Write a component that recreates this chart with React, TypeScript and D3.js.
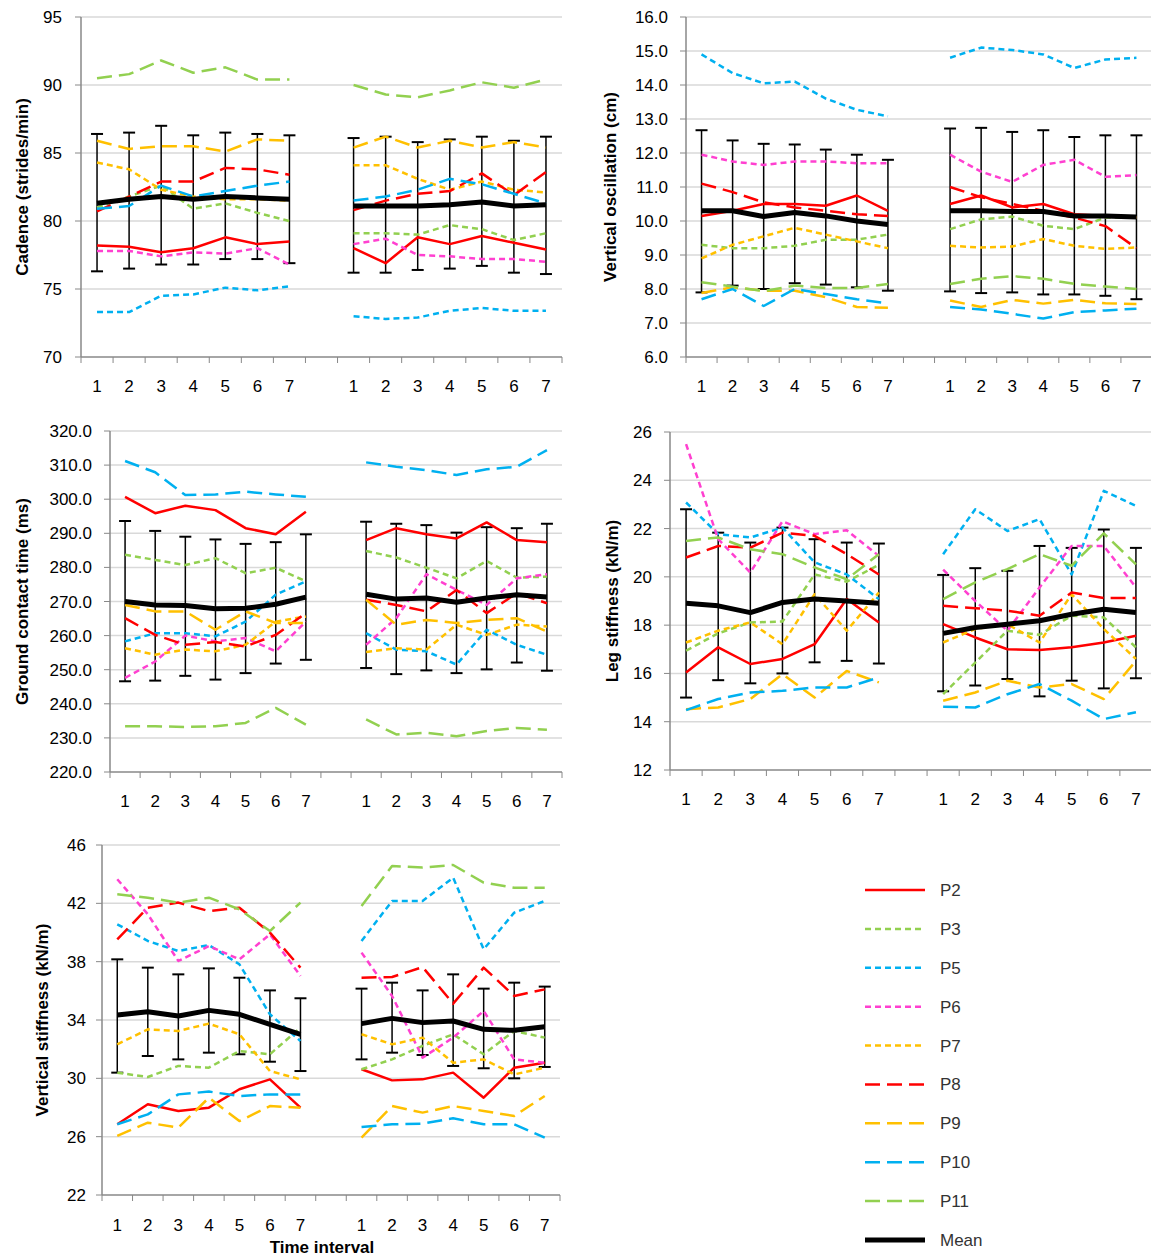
import * as d3 from "d3";
import { useRef, useEffect } from "react";

const intervals = ["1", "2", "3", "4", "5", "6", "7"];
const seriesNames = ["P2", "P3", "P5", "P6", "P7", "P8", "P9", "P10", "P11", "Mean"];

// each row: 7 values for block 1 followed by 7 for block 2
const cadence: Record<string, number[]> = {
  P2: [78.2, 78.1, 77.7, 78.0, 78.8, 78.3, 78.5, 78.0, 76.9, 78.8, 78.3, 78.9, 78.4, 77.9],
  P3: [81.0, 81.8, 82.6, 80.9, 81.3, 80.6, 80.0, 79.1, 79.1, 79.0, 79.7, 79.4, 78.6, 79.1],
  P5: [73.3, 73.3, 74.5, 74.6, 75.1, 74.9, 75.2, 73.0, 72.8, 72.9, 73.4, 73.6, 73.4, 73.4],
  P6: [77.8, 77.8, 77.4, 77.7, 77.6, 78.0, 76.8, 78.3, 78.7, 77.5, 77.4, 77.2, 77.2, 77.0],
  P7: [84.3, 83.8, 82.3, 81.8, 81.6, 81.6, 81.5, 84.1, 84.1, 83.1, 82.3, 82.9, 82.3, 82.1],
  P8: [80.7, 81.8, 82.9, 82.9, 83.9, 83.8, 83.4, 80.8, 81.5, 82.0, 82.2, 83.5, 81.9, 83.6],
  P9: [85.9, 85.3, 85.5, 85.5, 85.1, 86.0, 85.9, 85.4, 86.2, 85.4, 85.9, 85.4, 85.8, 85.4],
  P10: [80.9, 81.1, 82.6, 81.8, 82.2, 82.6, 82.9, 81.5, 81.8, 82.3, 83.1, 82.7, 82.0, 81.3],
  P11: [90.5, 90.8, 91.8, 90.9, 91.3, 90.4, 90.4, 90.0, 89.3, 89.1, 89.6, 90.2, 89.8, 90.4],
  Mean: [81.3, 81.6, 81.8, 81.6, 81.8, 81.7, 81.6, 81.1, 81.1, 81.1, 81.2, 81.4, 81.1, 81.2],
};
const cadenceHi = [86.4, 86.5, 87.0, 86.3, 86.5, 86.4, 86.3, 86.1, 86.2, 85.8, 86.0, 86.2, 85.9, 86.2];
const cadenceLo = [76.3, 76.5, 76.8, 76.8, 77.2, 77.2, 76.9, 76.2, 76.2, 76.4, 76.5, 76.7, 76.2, 76.1];

const oscillation: Record<string, number[]> = {
  P2: [10.15, 10.3, 10.5, 10.5, 10.45, 10.75, 10.3, 10.5, 10.75, 10.4, 10.5, 10.2, 10.15, 10.1],
  P3: [9.3, 9.2, 9.2, 9.27, 9.45, 9.45, 9.6, 9.76, 10.05, 10.13, 9.86, 9.76, 10.1, 10.1],
  P5: [14.9, 14.35, 14.05, 14.1, 13.6, 13.27, 13.08, 14.8, 15.1, 15.03, 14.9, 14.5, 14.75, 14.8],
  P6: [11.95, 11.75, 11.65, 11.75, 11.75, 11.7, 11.7, 11.95, 11.45, 11.15, 11.65, 11.8, 11.3, 11.35],
  P7: [8.9, 9.3, 9.55, 9.8, 9.6, 9.4, 9.2, 9.27, 9.22, 9.25, 9.47, 9.27, 9.18, 9.22],
  P8: [11.1, 10.85, 10.55, 10.4, 10.3, 10.2, 10.15, 11.0, 10.7, 10.5, 10.3, 10.1, 9.85, 9.2],
  P9: [7.88, 8.05, 7.95, 7.95, 7.76, 7.47, 7.45, 7.66, 7.47, 7.68, 7.57, 7.68, 7.58, 7.56],
  P10: [7.7, 8.0, 7.5, 8.0, 7.85, 7.7, 7.58, 7.47, 7.4, 7.27, 7.13, 7.32, 7.37, 7.42],
  P11: [8.2, 8.07, 7.94, 8.1, 8.03, 8.03, 8.15, 8.15, 8.3, 8.38, 8.3, 8.15, 8.07, 8.0],
  Mean: [10.3, 10.3, 10.13, 10.25, 10.15, 10.0, 9.9, 10.3, 10.3, 10.28, 10.28, 10.15, 10.15, 10.12],
};
const oscillationHi = [12.67, 12.37, 12.27, 12.25, 12.1, 11.95, 11.8, 12.72, 12.74, 12.62, 12.67, 12.47, 12.52, 12.52];
const oscillationLo = [7.9, 8.1, 8.0, 8.17, 8.13, 8.05, 7.95, 7.93, 7.88, 7.9, 7.84, 7.84, 7.8, 7.7];

const contact: Record<string, number[]> = {
  P2: [300.7, 295.9, 298.1, 296.8, 291.5, 289.7, 296.3, 288.0, 291.5, 289.7, 288.5, 293.2, 288.0, 287.4],
  P3: [283.7, 282.2, 280.7, 282.7, 278.3, 279.9, 275.9, 284.8, 282.9, 279.9, 276.8, 281.9, 277.0, 277.3],
  P5: [258.3, 260.7, 260.7, 259.8, 264.1, 272.0, 275.9, 260.7, 255.9, 255.4, 251.5, 261.7, 257.3, 254.4],
  P6: [247.6, 252.4, 260.0, 258.3, 259.3, 255.4, 264.1, 257.3, 265.1, 278.0, 273.4, 269.0, 276.8, 278.0],
  P7: [256.3, 254.4, 255.9, 255.4, 257.3, 264.1, 265.6, 255.2, 256.3, 255.9, 263.2, 260.2, 263.2, 262.7],
  P8: [265.1, 260.2, 257.3, 258.1, 256.8, 260.2, 266.6, 270.5, 269.0, 267.1, 273.4, 266.6, 272.4, 269.5],
  P9: [269.0, 267.1, 267.1, 261.7, 267.1, 263.7, 263.7, 270.5, 263.2, 264.6, 263.7, 264.6, 265.1, 261.2],
  P10: [311.2, 307.9, 301.2, 301.4, 302.2, 301.4, 300.7, 310.8, 309.5, 308.5, 307.1, 308.8, 309.5, 314.4],
  P11: [233.4, 233.4, 233.2, 233.4, 234.4, 238.8, 233.9, 235.4, 231.0, 231.5, 230.5, 232.0, 232.9, 232.4],
  Mean: [270.0, 269.0, 268.8, 267.9, 268.0, 269.2, 271.3, 272.1, 270.7, 271.0, 269.8, 271.0, 272.0, 271.3],
};
const contactHi = [293.6, 290.7, 289.0, 288.2, 286.9, 287.4, 289.7, 293.4, 292.8, 292.4, 290.2, 291.8, 291.5, 292.8];
const contactLo = [246.6, 246.8, 248.2, 247.1, 249.0, 251.8, 252.9, 250.5, 248.7, 249.8, 249.0, 250.1, 252.1, 249.7];

const legStiff: Record<string, number[]> = {
  P2: [16.04, 17.08, 16.39, 16.6, 17.21, 19.08, 18.11, 18.04, 17.49, 17.0, 16.97, 17.08, 17.28, 17.56],
  P3: [16.94, 17.66, 18.11, 18.15, 20.1, 19.8, 20.5, 15.14, 16.45, 17.77, 17.6, 18.39, 18.32, 17.08],
  P5: [23.08, 21.77, 21.63, 22.04, 20.6, 20.1, 19.08, 20.94, 22.8, 21.9, 22.39, 20.1, 23.56, 22.94],
  P6: [25.5, 21.56, 20.18, 22.3, 21.77, 21.93, 20.87, 20.3, 19.0, 17.77, 19.56, 21.28, 21.28, 19.56],
  P7: [17.28, 17.77, 18.11, 17.21, 19.28, 17.77, 19.35, 17.28, 17.84, 18.04, 17.28, 19.28, 17.84, 16.6],
  P8: [20.8, 21.28, 21.21, 21.83, 21.7, 20.94, 20.1, 18.8, 18.7, 18.6, 18.39, 19.35, 19.12, 19.12],
  P9: [14.52, 14.59, 14.94, 15.97, 15.0, 16.1, 15.63, 14.87, 15.21, 15.7, 15.42, 15.56, 14.94, 16.52],
  P10: [14.48, 14.94, 15.21, 15.28, 15.42, 15.42, 15.83, 14.62, 14.59, 15.14, 15.56, 14.87, 14.11, 14.39],
  P11: [21.49, 21.63, 21.14, 20.94, 20.39, 19.9, 20.94, 19.08, 19.77, 20.32, 20.94, 20.46, 21.8, 20.52],
  Mean: [18.91, 18.8, 18.52, 18.94, 19.08, 19.0, 18.91, 17.66, 17.9, 18.04, 18.18, 18.45, 18.66, 18.52],
};
const legStiffHi = [22.8, 21.83, 21.42, 22.04, 21.56, 21.42, 21.38, 20.08, 20.36, 20.25, 21.28, 21.2, 21.96, 21.2];
const legStiffLo = [15.0, 15.72, 15.59, 16.0, 16.46, 16.52, 16.41, 15.26, 15.5, 15.77, 15.05, 15.7, 15.38, 15.8];

const vertStiff: Record<string, number[]> = {
  P2: [26.85, 28.22, 27.76, 27.99, 29.25, 29.93, 27.99, 30.62, 29.86, 29.93, 30.39, 28.67, 30.73, 31.07],
  P3: [30.39, 30.09, 30.85, 30.73, 31.87, 31.65, 33.47, 30.62, 31.3, 32.22, 33.02, 31.65, 33.25, 32.79],
  P5: [40.56, 39.42, 38.73, 39.14, 37.82, 34.39, 32.56, 39.42, 42.16, 42.16, 43.76, 38.85, 41.36, 42.16],
  P6: [43.65, 41.25, 38.05, 39.07, 38.16, 39.87, 37.02, 38.62, 35.65, 31.42, 32.79, 34.62, 31.3, 31.07],
  P7: [32.33, 33.36, 33.25, 33.75, 33.02, 30.5, 29.93, 33.02, 32.33, 32.79, 31.07, 31.3, 30.27, 30.73],
  P8: [39.53, 41.7, 42.05, 41.47, 41.7, 39.99, 37.59, 36.9, 36.95, 37.63, 35.12, 37.59, 35.65, 36.1],
  P9: [26.05, 26.96, 26.62, 28.67, 27.07, 28.1, 27.99, 25.93, 28.1, 27.65, 28.1, 27.76, 27.42, 28.79],
  P10: [26.85, 27.53, 28.9, 29.09, 28.79, 28.9, 28.9, 26.66, 26.85, 26.89, 27.26, 26.85, 26.85, 25.93],
  P11: [42.62, 42.39, 42.05, 42.39, 41.59, 40.1, 42.05, 41.82, 44.56, 44.45, 44.63, 43.42, 43.07, 43.07],
  Mean: [34.34, 34.57, 34.27, 34.66, 34.39, 33.7, 33.02, 33.75, 34.11, 33.82, 33.93, 33.36, 33.29, 33.54],
};
const vertStiffHi = [38.16, 37.59, 37.13, 37.54, 36.9, 36.03, 35.49, 36.15, 36.56, 36.03, 37.13, 36.15, 36.56, 36.29];
const vertStiffLo = [30.39, 31.53, 31.3, 31.76, 31.65, 31.14, 30.5, 31.3, 31.76, 31.6, 30.85, 30.69, 30.0, 30.78];

const styles: Record<string, { color: string; dash: string | null; width: number }> = {
  P2: { color: "#ff0000", dash: null, width: 2.5 },
  P3: { color: "#92d050", dash: "6,4", width: 2.5 },
  P5: { color: "#00b0f0", dash: "6,4", width: 2.5 },
  P6: { color: "#ff40d0", dash: "6,4", width: 2.5 },
  P7: { color: "#ffc000", dash: "6,4", width: 2.5 },
  P8: { color: "#ff0000", dash: "15,7", width: 2.5 },
  P9: { color: "#ffc000", dash: "15,7", width: 2.5 },
  P10: { color: "#00b0f0", dash: "15,7", width: 2.5 },
  P11: { color: "#92d050", dash: "15,7", width: 2.5 },
  Mean: { color: "#000000", dash: null, width: 5 },
};

const panels = [
  { title: "Cadence (strides/min)", data: cadence, hi: cadenceHi, lo: cadenceLo, x: [81, 562], y: [357, 17], dom: [70, 95], step: 5, fmt: "d", labX: 62, titleX: 22, tickY: 392 },
  { title: "Vertical oscillation (cm)", data: oscillation, hi: oscillationHi, lo: oscillationLo, x: [686, 1152], y: [357, 17], dom: [6, 16], step: 1, fmt: ".1f", labX: 668, titleX: 610, tickY: 392 },
  { title: "Ground contact time (ms)", data: contact, hi: contactHi, lo: contactLo, x: [110, 562], y: [772, 431], dom: [220, 320], step: 10, fmt: ".1f", labX: 92, titleX: 22, tickY: 807 },
  { title: "Leg stiffness (kN/m)", data: legStiff, hi: legStiffHi, lo: legStiffLo, x: [670, 1152], y: [770, 432], dom: [12, 26], step: 2, fmt: "d", labX: 652, titleX: 612, tickY: 805 },
  { title: "Vertical stiffness (kN/m)", data: vertStiff, hi: vertStiffHi, lo: vertStiffLo, x: [102, 560], y: [1195, 845], dom: [22, 46], step: 4, fmt: "d", labX: 86, titleX: 42, tickY: 1231 },
];

const FONT = "'Liberation Sans', Arial, sans-serif";

export default function App() {
  const ref = useRef<SVGSVGElement | null>(null);

  useEffect(() => {
    const svg = d3.select(ref.current);
    svg.selectAll("*").remove();

    const slots = d3.range(15).map(String);

    panels.forEach((p) => {
      const g = svg.append("g");
      const x = d3.scaleBand().domain(slots).range(p.x as [number, number]);
      const y = d3.scaleLinear().domain(p.dom).range(p.y);
      const slotOf = (i: number) => String(i < 7 ? i : i + 1);
      const cx = (i: number) => x(slotOf(i))! + x.bandwidth() / 2;

      const ticks = d3.range(p.dom[0], p.dom[1] + p.step / 2, p.step);
      g.selectAll(".grid").data(ticks.slice(1)).enter().append("line")
        .attr("x1", p.x[0]).attr("x2", p.x[1]).attr("y1", (d) => y(d)).attr("y2", (d) => y(d))
        .attr("stroke", "#d9d9d9").attr("stroke-width", 1.5);
      // axes
      g.append("line").attr("x1", p.x[0]).attr("x2", p.x[0]).attr("y1", p.y[0]).attr("y2", p.y[1])
        .attr("stroke", "#888").attr("stroke-width", 1.5);
      g.append("line").attr("x1", p.x[0]).attr("x2", p.x[1]).attr("y1", p.y[0]).attr("y2", p.y[0])
        .attr("stroke", "#888").attr("stroke-width", 1.5);
      g.selectAll(".ytick").data(ticks).enter().append("line")
        .attr("x1", p.x[0] - 6).attr("x2", p.x[0]).attr("y1", (d) => y(d)).attr("y2", (d) => y(d))
        .attr("stroke", "#888");
      g.selectAll(".xtick").data(d3.range(16)).enter().append("line")
        .attr("x1", (d) => p.x[0] + d * x.step()).attr("x2", (d) => p.x[0] + d * x.step())
        .attr("y1", p.y[0]).attr("y2", p.y[0] + 6).attr("stroke", "#888");
      const fmt = d3.format(p.fmt);
      g.selectAll(".ylab").data(ticks).enter().append("text")
        .attr("x", p.labX).attr("y", (d) => y(d) + 6).attr("text-anchor", "end")
        .attr("font-size", 17).attr("font-family", FONT).text((d) => fmt(d));
      g.selectAll(".xlab").data(d3.range(14)).enter().append("text")
        .attr("x", cx).attr("y", p.tickY).attr("text-anchor", "middle")
        .attr("font-size", 17).attr("font-family", FONT).text((i) => intervals[i % 7]);
      g.append("text")
        .attr("transform", `translate(${p.titleX},${(p.y[0] + p.y[1]) / 2}) rotate(-90)`)
        .attr("text-anchor", "middle").attr("dy", "0.35em").attr("font-size", 17)
        .attr("font-weight", "bold").attr("font-family", FONT).text(p.title);

      const line = d3.line<number>().x((_, i) => cx(i)).y((d) => y(d));
      const draw = (name: string) => {
        const s = styles[name];
        [0, 7].forEach((start) => {
          const vals = p.data[name].slice(start, start + 7);
          g.append("path")
            .attr("d", d3.line<number>().x((_, i) => cx(start + i)).y((d) => y(d))(vals))
            .attr("fill", "none").attr("stroke", s.color).attr("stroke-width", s.width)
            .attr("stroke-dasharray", s.dash).attr("stroke-linejoin", "round");
        });
      };
      void line;
      // error bars
      d3.range(14).forEach((i) => {
        const xx = cx(i);
        g.append("line").attr("x1", xx).attr("x2", xx).attr("y1", y(p.hi[i])).attr("y2", y(p.lo[i]))
          .attr("stroke", "#000").attr("stroke-width", 1.5);
        [p.hi[i], p.lo[i]].forEach((v) => {
          g.append("line").attr("x1", xx - 6).attr("x2", xx + 6).attr("y1", y(v)).attr("y2", y(v))
            .attr("stroke", "#000").attr("stroke-width", 2);
        });
      });
      seriesNames.filter((n) => n !== "Mean").forEach(draw);
      draw("Mean");
    });

    svg.append("text").attr("x", 322).attr("y", 1253).attr("text-anchor", "middle")
      .attr("font-size", 17).attr("font-weight", "bold").attr("font-family", FONT).text("Time interval");

    const legendY = d3.scalePoint().domain(seriesNames).range([890, 1240]);
    seriesNames.forEach((n) => {
      const s = styles[n];
      const yy = legendY(n)!;
      svg.append("line").attr("x1", 865).attr("x2", 925).attr("y1", yy).attr("y2", yy)
        .attr("stroke", s.color).attr("stroke-width", s.width).attr("stroke-dasharray", s.dash);
      svg.append("text").attr("x", 940).attr("y", yy + 6).attr("font-size", 17)
        .attr("font-family", FONT).attr("fill", "#333").text(n);
    });
  }, []);

  return (
    <svg ref={ref} width={1151} height={1258}
      style={{ position: "absolute", left: 0, top: 0, background: "#fff" }} />
  );
}
